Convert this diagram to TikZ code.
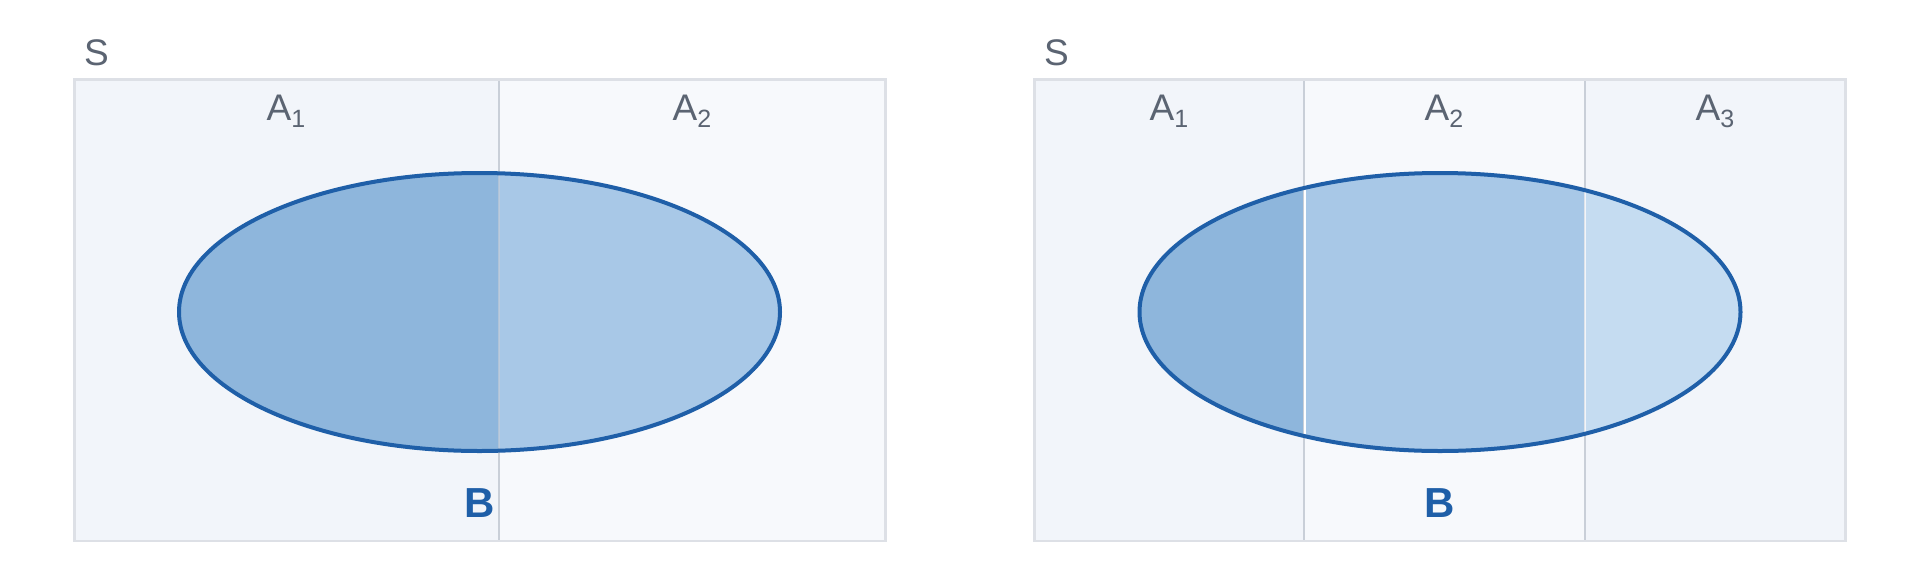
\documentclass[tikz,border=0pt]{standalone}
\usepackage{fontspec}
\setmainfont{Liberation Sans}
\definecolor{bgA}{HTML}{F2F5FA}
\definecolor{bgB}{HTML}{F7F9FC}
\definecolor{frame}{HTML}{DDE0E6}
\definecolor{divc}{HTML}{C9CFD8}
\definecolor{fillA}{HTML}{8EB6DC}
\definecolor{fillB}{HTML}{A8C8E7}
\definecolor{fillC}{HTML}{C5DCF1}
\definecolor{edge}{HTML}{1F5FA8}
\definecolor{txt}{HTML}{5B6472}
\tikzset{
  lbl/.style={inner sep=0pt, text=txt, font=\fontsize{37}{40}\selectfont},
  blbl/.style={inner sep=0pt, text=edge, font=\fontsize{42}{46}\selectfont\bfseries},
  framebox/.style={draw=frame, line width=2.5pt},
  divline/.style={draw=divc, line width=2pt},
  ellstroke/.style={draw=edge, line width=4pt},
}
\newcommand{\Asub}[1]{A\raisebox{-7pt}{\fontsize{25}{27}\selectfont #1}}
\begin{document}
\begin{tikzpicture}[x=1pt,y=-1pt]
\useasboundingbox (0,0) rectangle (1920,576);
\fill[white] (0,0) rectangle (1920,576);

% ---------- left panel ----------
\fill[bgA] (74.7,79.6) rectangle (498.5,541);
\fill[bgB] (498.5,79.6) rectangle (885.3,541);
\begin{scope}
  \clip (479.5,312) ellipse [x radius=300.5, y radius=139];
  \fill[fillA] (150,150) rectangle (498.5,470);
  \fill[fillB] (498.5,150) rectangle (800,470);
\end{scope}
\draw[divline] (498.5,79.6) -- (498.5,173);
\draw[divline, draw opacity=0.55] (498.5,173) -- (498.5,451);
\draw[divline] (498.5,451) -- (498.5,541);
\draw[ellstroke] (479.5,312) ellipse [x radius=300.5, y radius=139];
\draw[framebox] (74.7,79.6) rectangle (885.3,541);

\node[lbl, anchor=base west] (S1) at (84,65) {S};
\node[lbl, anchor=base] (L1A1) at (286,120) {\Asub{1}};
\node[lbl, anchor=base] (L1A2) at (692,120) {\Asub{2}};
\node[blbl, anchor=base] (L1B) at (479.5,517) {B};

% ---------- right panel ----------
\fill[bgA] (1034.7,79.6) rectangle (1304,541);
\fill[bgB] (1304,79.6) rectangle (1584.5,541);
\fill[bgA] (1584.5,79.6) rectangle (1845.3,541);
\draw[divline] (1304,79.6) -- (1304,190);
\draw[divline] (1304,434) -- (1304,541);
\draw[divline] (1584.5,79.6) -- (1584.5,190);
\draw[divline] (1584.5,434) -- (1584.5,541);
\begin{scope}
  \clip (1440,312) ellipse [x radius=300.5, y radius=139];
  \fill[fillA] (1100,150) rectangle (1303.5,470);
  \fill[fillB] (1305.5,150) rectangle (1583.5,470);
  \fill[fillC] (1585.5,150) rectangle (1800,470);
  \draw[divc, line width=1.2pt] (1303.6,150) -- (1303.6,470);
  \draw[white, line width=1.3pt] (1305,150) -- (1305,470);
  \draw[divc, draw opacity=0.5, line width=1.5pt] (1584.5,150) -- (1584.5,470);
\end{scope}
\draw[ellstroke] (1440,312) ellipse [x radius=300.5, y radius=139];
\draw[framebox] (1034.7,79.6) rectangle (1845.3,541);

\node[lbl, anchor=base west] (S2) at (1044,65) {S};
\node[lbl, anchor=base] (R1A1) at (1169,120) {\Asub{1}};
\node[lbl, anchor=base] (R1A2) at (1444,120) {\Asub{2}};
\node[lbl, anchor=base] (R1A3) at (1715,120) {\Asub{3}};
\node[blbl, anchor=base] (R1B) at (1440,517) {B};
\end{tikzpicture}
\end{document}
